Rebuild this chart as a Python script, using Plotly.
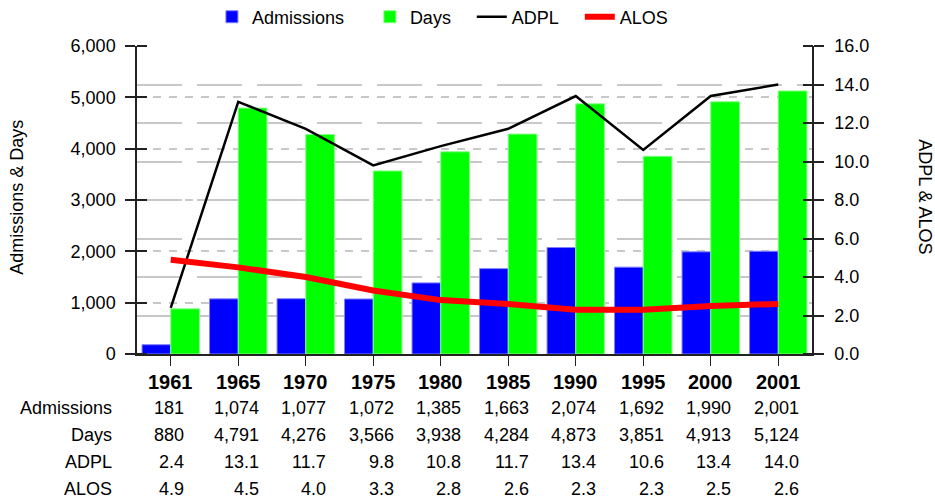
import plotly.graph_objects as go

years = ["1961", "1965", "1970", "1975", "1980", "1985", "1990", "1995", "2000", "2001"]
admissions = [181, 1074, 1077, 1072, 1385, 1663, 2074, 1692, 1990, 2001]
days = [880, 4791, 4276, 3566, 3938, 4284, 4873, 3851, 4913, 5124]
adpl = [2.4, 13.1, 11.7, 9.8, 10.8, 11.7, 13.4, 10.6, 13.4, 14.0]
alos = [4.9, 4.5, 4.0, 3.3, 2.8, 2.6, 2.3, 2.3, 2.5, 2.6]

FONT = "Liberation Sans, Arial, sans-serif"
FS = 18
PLOT_W = 675  # px width of plotting area
PLOT_H = 308  # px height of plotting area (for paper offsets)


def text_w(s, size):
    # rough Arial metrics for digits and punctuation
    return sum(0.278 if c in ",." else 0.556 for c in s) * size


fig = go.Figure()

fig.add_trace(go.Bar(x=years, y=admissions, name="Admissions", legend="legend",
                     marker=dict(color="#0000ff", line=dict(color="#8080ff", width=1))))
fig.add_trace(go.Bar(x=years, y=days, name="Days", legend="legend2",
                     marker=dict(color="#00ff00", line=dict(color="#80ff80", width=1))))
fig.add_trace(go.Scatter(x=years, y=adpl, name="ADPL", mode="lines", yaxis="y2", legend="legend3",
                         line=dict(color="black", width=2.5)))
fig.add_trace(go.Scatter(x=years, y=alos, name="ALOS", mode="lines", yaxis="y2", legend="legend4",
                         line=dict(color="#ff0000", width=6)))

# table under the chart
rows = [
    ("Admissions", [f"{v:,}" for v in admissions]),
    ("Days", [f"{v:,}" for v in days]),
    ("ADPL", [f"{v:.1f}" for v in adpl]),
    ("ALOS", [f"{v:.1f}" for v in alos]),
]
row_px = [54, 81, 108, 135]
year_px = 28

annotations = []
n = len(years)
for i, yr in enumerate(years):
    xc = (i + 0.5) / n
    annotations.append(dict(x=xc, xref="paper", y=-year_px / PLOT_H, yref="paper", text=f"<b>{yr}</b>",
                            showarrow=False, xanchor="center", yanchor="middle",
                            font=dict(size=20, color="black")))
    col_w = max(text_w(r[1][i], FS) for r in rows)
    for (label, vals), px in zip(rows, row_px):
        annotations.append(dict(x=xc, xref="paper", y=-px / PLOT_H, yref="paper", text=vals[i],
                                showarrow=False, xanchor="right", xshift=col_w / 2, yanchor="middle"))
for (label, vals), px in zip(rows, row_px):
    annotations.append(dict(x=-0.034, xref="paper", y=-px / PLOT_H, yref="paper", text=label,
                            showarrow=False, xanchor="right", yanchor="middle"))

annotations.append(dict(x=-0.178, xref="paper", y=0.51, yref="paper", text="Admissions & Days",
                        textangle=-90, showarrow=False, xanchor="center", yanchor="middle"))
annotations.append(dict(x=1.167, xref="paper", y=0.51, yref="paper", text="ADPL & ALOS",
                        textangle=90, showarrow=False, xanchor="center", yanchor="middle"))


def leg(x):
    return dict(orientation="h", x=x, xanchor="left", y=1.094, yanchor="middle",
                font=dict(size=FS), bgcolor="rgba(0,0,0,0)")


axis_col = "#222222"
TL = 10
fig.update_layout(
    width=935, height=500,
    margin=dict(l=137, r=123, t=46, b=146, autoexpand=False),
    plot_bgcolor="white", paper_bgcolor="white",
    font=dict(family=FONT, size=FS, color="black"),
    barmode="group", bargap=0.15, bargroupgap=0,
    showlegend=True,
    legend=leg(0.111), legend2=leg(0.345), legend3=leg(0.496), legend4=leg(0.656),
    xaxis=dict(type="category", range=[-0.5, 9.5], showticklabels=False, domain=[0, 1],
               ticks="outside", ticklen=TL, tickcolor=axis_col, showgrid=False,
               showline=True, linecolor=axis_col, linewidth=1.5, zeroline=False),
    yaxis=dict(range=[0, 6000], dtick=1000, tickformat=",", ticks="outside", ticklen=TL,
               tickcolor=axis_col, tickwidth=1.5, showline=True, linecolor=axis_col, linewidth=1.5,
               showgrid=True, gridcolor="#c8c8c8", griddash="8px,8px", gridwidth=1.5, zeroline=False,
               ticklabelstandoff=6),
    yaxis2=dict(range=[0, 16], dtick=2, tickformat=".1f", overlaying="y", side="right",
                ticks="outside", ticklen=TL, tickcolor=axis_col, tickwidth=1.5,
                showline=True, linecolor=axis_col, linewidth=1.5,
                showgrid=True, gridcolor="#c8c8c8", griddash="45px,15px", gridwidth=1.5, zeroline=False,
                ticklabelstandoff=7),
    # inner halves of the crossing ticks: free axes set TL px inside, ticking outward onto the spine
    yaxis3=dict(range=[0, 6000], dtick=1000, overlaying="y", side="left", anchor="free",
                position=TL / PLOT_W, ticks="outside", ticklen=TL,
                tickcolor=axis_col, tickwidth=1.5, showticklabels=False, showgrid=False, zeroline=False,
                showline=False),
    yaxis4=dict(range=[0, 16], dtick=2, overlaying="y", side="right", anchor="free",
                position=1 - TL / PLOT_W, ticks="outside", ticklen=TL,
                tickcolor=axis_col, tickwidth=1.5, showticklabels=False, showgrid=False, zeroline=False,
                showline=False),
    annotations=annotations,
)

# invisible helper traces so the overlay tick axes get drawn
fig.add_trace(go.Scatter(x=[years[0]], y=[0], yaxis="y3", mode="markers", marker=dict(opacity=0),
                         showlegend=False, hoverinfo="skip"))
fig.add_trace(go.Scatter(x=[years[0]], y=[0], yaxis="y4", mode="markers", marker=dict(opacity=0),
                         showlegend=False, hoverinfo="skip"))

fig.write_html("out.html", config={"displayModeBar": False},
               post_script="document.body.style.margin='0';")
